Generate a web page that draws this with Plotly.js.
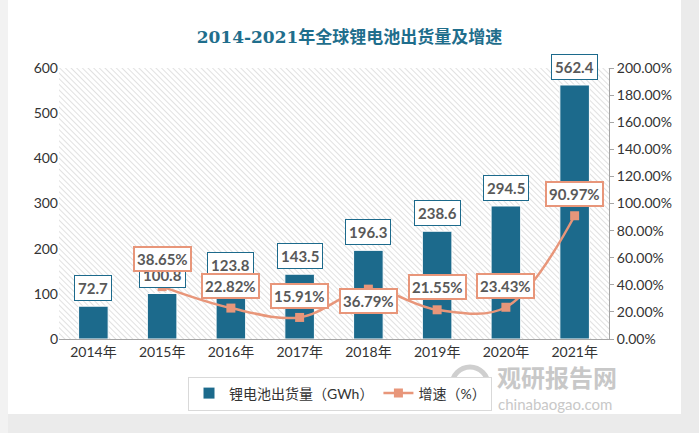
<!DOCTYPE html>
<html><head><meta charset="utf-8">
<script src="https://cdn.plot.ly/plotly-3.0.1.min.js"></script>
<style>html,body{margin:0;padding:0;background:#fff}#c{width:699px;height:433px}</style>
</head><body><div id="c"></div>
<script>
const years = ['2014年','2015年','2016年','2017年','2018年','2019年','2020年','2021年'];
const shipments = [72.7, 100.8, 123.8, 143.5, 196.3, 238.6, 294.5, 562.4];
const growthYears = ['2015年','2016年','2017年','2018年','2019年','2020年','2021年'];
const growth = [38.65, 22.82, 15.91, 36.79, 21.55, 23.43, 90.97];
const growthLabelShift = [28, 22, 21, -12, 23, 21, 22];

const blue = '#1c6a8c', orange = '#e8967a';
const L = 59, R = 90, T = 68, B = 94, PW = 550, PH = 271;
const px = x => (x - L) / PW, py = y => (T + PH - y) / PH;

const hatch = 'data:image/svg+xml;utf8,' + encodeURIComponent(
 '<svg xmlns="http://www.w3.org/2000/svg" width="550" height="271"><defs><pattern id="p" width="4" height="4" patternUnits="userSpaceOnUse" patternTransform="rotate(-45)"><rect width="4" height="4" fill="#ffffff"/><line x1="0" y1="0" x2="0" y2="4" stroke="#d4d4d4" stroke-width="1.4"/></pattern></defs><rect width="550" height="271" fill="url(#p)"/></svg>');

const ann = [];
years.forEach((y, i) => ann.push({x: y, y: shipments[i], xref: 'x', yref: 'y', text: shipments[i].toFixed(1),
  showarrow: false, yshift: 18, bgcolor: '#fff', bordercolor: blue, borderwidth: 1, borderpad: 3,
  font: {family: 'Lato, sans-serif', size: 15, color: '#595959', weight: 'bold'}}));
growthYears.forEach((y, i) => ann.push({x: y, y: growth[i], xref: 'x', yref: 'y2', text: growth[i].toFixed(2) + '%',
  showarrow: false, yshift: growthLabelShift[i], bgcolor: '#fff', bordercolor: orange, borderwidth: 2, borderpad: 2,
  font: {family: 'Lato, sans-serif', size: 15, color: '#595959', weight: 'bold'}}));
ann.push({xref: 'paper', yref: 'paper', x: px(557), y: py(377), xanchor: 'center', yanchor: 'middle', text: '观研报告网', showarrow: false,
  font: {family: 'Noto Sans CJK SC', size: 24, color: '#c8c8c8', weight: 'bold'}});
ann.push({xref: 'paper', yref: 'paper', x: px(555), y: py(404), xanchor: 'center', yanchor: 'middle', text: 'chinabaogao.com', showarrow: false,
  font: {family: 'Lato, sans-serif', size: 15, color: '#c8c8c8'}});

const data = [
 {type: 'bar', x: years, y: shipments, name: '锂电池出货量（GWh）', marker: {color: blue, line: {color: '#fff', width: 1}}, width: 0.43},
 {type: 'scatter', mode: 'lines+markers', x: growthYears, y: growth, yaxis: 'y2', name: '增速（%）',
  line: {color: orange, width: 2.5, shape: 'spline', smoothing: 1}, marker: {symbol: 'square', size: 9, color: orange}}
];

const gray = '#ebebeb';
const layout = {
 width: 699, height: 433, margin: {l: L, r: R, t: T, b: B},
 paper_bgcolor: '#fff', plot_bgcolor: 'rgba(0,0,0,0)',
 font: {family: 'Lato, "Noto Sans CJK SC", sans-serif', size: 14, color: '#333'},
 title: {text: '2014-2021年全球锂电池出货量及增速', x: 0.5, xref: 'container', y: 1 - 37/433, yref: 'container', yanchor: 'middle',
  font: {family: '"DejaVu Serif", "Noto Sans CJK SC", serif', size: 17, color: '#1f6e8c', weight: 'bold'}},
 xaxis: {type: 'category', showline: true, linecolor: '#a6a6a6', linewidth: 1, showgrid: false, ticks: '',
  tickfont: {size: 14, color: '#333'}, fixedrange: true},
 yaxis: {range: [0, 600], tickvals: [0,100,200,300,400,500,600], showgrid: false, zeroline: false, showline: false,
  ticks: '', ticklen: 0, tickfont: {size: 14, color: '#333'}, automargin: false},
 yaxis2: {overlaying: 'y', side: 'right', range: [0, 200], tickvals: [0,20,40,60,80,100,120,140,160,180,200],
  ticktext: ['0.00%','20.00%','40.00%','60.00%','80.00%','100.00%','120.00%','140.00%','160.00%','180.00%','200.00%'],
  showgrid: false, zeroline: false, showline: true, linecolor: '#a6a6a6', ticks: 'outside', ticklen: 4, tickcolor: '#a6a6a6',
  tickfont: {size: 14, color: '#333'}, automargin: false},
 bargap: 0.5,
 showlegend: true,
 legend: {orientation: 'h', x: px(340), xanchor: 'center', y: py(393.5), yanchor: 'middle', bgcolor: '#fff',
  bordercolor: '#d9d9d9', borderwidth: 1, font: {size: 14, color: '#333'}, itemwidth: 30, traceorder: 'normal'},
 images: [{source: hatch, xref: 'paper', yref: 'paper', x: 0, y: 1, sizex: 1, sizey: 1, sizing: 'stretch', layer: 'below', xanchor: 'left', yanchor: 'top'}],
 shapes: [
  {type: 'rect', xref: 'paper', yref: 'paper', x0: px(681), x1: px(699), y0: py(433), y1: py(0), fillcolor: gray, line: {width: 0}, layer: 'below'},
  {type: 'rect', xref: 'paper', yref: 'paper', x0: px(0), x1: px(699), y0: py(433), y1: py(414), fillcolor: gray, line: {width: 0}, layer: 'below'},
  {type: 'rect', xref: 'paper', yref: 'paper', x0: px(0), x1: px(8), y0: py(433), y1: py(0), fillcolor: '#f2f2f2', line: {width: 0}, layer: 'below'},
  {type: 'circle', xref: 'paper', yref: 'paper', x0: px(452), x1: px(488), y0: py(403), y1: py(367), line: {color: '#cfcfcf', width: 5}, layer: 'above'}
 ],
 annotations: ann
};
Plotly.newPlot('c', data, layout, {displayModeBar: false, staticPlot: true});
</script></body></html>
